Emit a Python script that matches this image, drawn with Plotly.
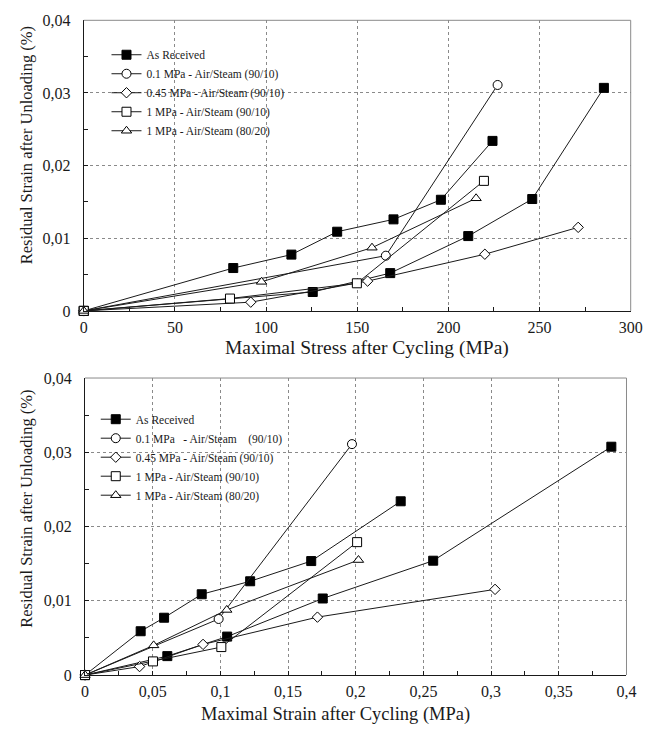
import plotly.graph_objects as go

# ---- Top panel: residual strain vs maximal stress after cycling ----
stress_as_received_a = [0, 82.0, 113.9, 139.0, 169.9, 195.9, 224.2]
strain_as_received_a = [0, 0.0059, 0.00775, 0.0109, 0.0126, 0.0153, 0.0234]
stress_as_received_b = [0, 125.6, 168.1, 210.9, 246.0, 285.3]
strain_as_received_b = [0, 0.0026, 0.0052, 0.0103, 0.0154, 0.0307]
stress_01_9010 = [0, 165.7, 227.0]
strain_01_9010 = [0, 0.0076, 0.0311]
stress_045_9010 = [0, 91.6, 155.7, 220.0, 271.2]
strain_045_9010 = [0, 0.0012, 0.0041, 0.0078, 0.0115]
stress_1_9010 = [0, 80.2, 149.8, 219.5]
strain_1_9010 = [0, 0.0017, 0.0038, 0.0179]
stress_1_8020 = [0, 97.5, 158.1, 215.2]
strain_1_8020 = [0, 0.0040, 0.0087, 0.0155]

# ---- Bottom panel: residual strain vs maximal strain after cycling ----
maxstrain_as_received_a = [0, 0.0411, 0.0584, 0.0862, 0.1220, 0.1671, 0.2332]
resid_as_received_a = [0, 0.0059, 0.00772, 0.01088, 0.01263, 0.01535, 0.0234]
maxstrain_as_received_b = [0, 0.0608, 0.1050, 0.1756, 0.2572, 0.3888]
resid_as_received_b = [0, 0.00255, 0.00518, 0.01031, 0.0154, 0.03075]
maxstrain_01_9010 = [0, 0.0987, 0.1972]
resid_01_9010 = [0, 0.00755, 0.0311]
maxstrain_045_9010 = [0, 0.0403, 0.0872, 0.1717, 0.3029]
resid_045_9010 = [0, 0.00114, 0.00413, 0.0078, 0.01154]
maxstrain_1_9010 = [0, 0.0502, 0.1007, 0.2010]
resid_1_9010 = [0, 0.00184, 0.00377, 0.0179]
maxstrain_1_8020 = [0, 0.0507, 0.1047, 0.2020]
resid_1_8020 = [0, 0.0040, 0.00877, 0.01549]

# ---- Tick labels ----
y_tickvals = [0, 0.01, 0.02, 0.03, 0.04]
y_ticktext = ["0", "0,01", "0,02", "0,03", "0,04"]
stress_tickvals = [0, 50, 100, 150, 200, 250, 300]
stress_ticktext = ["0", "50", "100", "150", "200", "250", "300"]
strain_tickvals = [0, 0.05, 0.1, 0.15, 0.2, 0.25, 0.3, 0.35, 0.4]
strain_ticktext = ["0", "0,05", "0,1", "0,15", "0,2", "0,25", "0,3", "0,35", "0,4"]

labels_top = ["As Received", "0.1 MPa - Air/Steam (90/10)", "0.45 MPa - Air/Steam (90/10)",
              "1 MPa - Air/Steam (90/10)", "1 MPa - Air/Steam (80/20)"]
labels_bottom = ["As Received", "0.1 MPa\u00a0\u00a0 - Air/Steam\u00a0\u00a0\u00a0 (90/10)",
                 "0.45 MPa - Air/Steam (90/10)", "1 MPa - Air/Steam (90/10)",
                 "1 MPa - Air/Steam (80/20)"]

FONT = "Liberation Serif, Times New Roman, serif"
INK = "#1a1a1a"
LINE = dict(color=INK, width=1)

styles = [
    dict(symbol="square", size=9, color="black", line=dict(color="black", width=1)),
    dict(symbol="circle", size=9, color="white", line=dict(color="black", width=1)),
    dict(symbol="diamond", size=8, color="white", line=dict(color="black", width=1)),
    dict(symbol="square", size=9, color="white", line=dict(color="black", width=1)),
    dict(symbol="triangle-up", size=9, color="white", line=dict(color="black", width=1)),
]

fig = go.Figure()


def add_panel(xaxis, yaxis, legend, labels, series):
    for xs, ys, style_idx, show in series:
        fig.add_trace(go.Scatter(
            x=xs, y=ys, mode="lines+markers",
            line=LINE, marker=styles[style_idx],
            name=labels[style_idx], showlegend=show,
            legend=legend, xaxis=xaxis, yaxis=yaxis, cliponaxis=False,
        ))


add_panel("x", "y", "legend", labels_top, [
    (stress_as_received_a, strain_as_received_a, 0, True),
    (stress_as_received_b, strain_as_received_b, 0, False),
    (stress_01_9010, strain_01_9010, 1, True),
    (stress_045_9010, strain_045_9010, 2, True),
    (stress_1_9010, strain_1_9010, 3, True),
    (stress_1_8020, strain_1_8020, 4, True),
])
add_panel("x2", "y2", "legend2", labels_bottom, [
    (maxstrain_as_received_a, resid_as_received_a, 0, True),
    (maxstrain_as_received_b, resid_as_received_b, 0, False),
    (maxstrain_01_9010, resid_01_9010, 1, True),
    (maxstrain_045_9010, resid_045_9010, 2, True),
    (maxstrain_1_9010, resid_1_9010, 3, True),
    (maxstrain_1_8020, resid_1_8020, 4, True),
])

W, H = 671, 742


def px_x(p):
    return p / W


def px_y(p):
    return 1 - p / H


axis_style = dict(showgrid=True, gridcolor="#8a8a8a", griddash="dot", gridwidth=1,
                  zeroline=False, showline=True, linecolor=INK, linewidth=1,
                  ticks="inside", ticklen=4, tickcolor=INK,
                  tickfont=dict(family=FONT, size=16, color=INK))


def minor(step):
    return dict(dtick=step, ticks="inside", ticklen=4, tickcolor=INK, showgrid=False)


fig.update_layout(
    width=W, height=H,
    margin=dict(l=0, r=0, t=0, b=0),
    paper_bgcolor="white", plot_bgcolor="white",
    font=dict(family=FONT, color=INK),
    xaxis=dict(domain=[px_x(81.7), px_x(642)], range=[0, 300], anchor="y",
               tickvals=stress_tickvals, ticktext=stress_ticktext, minor=minor(25),
               ticklabelstandoff=2, **axis_style),
    yaxis=dict(domain=[px_y(310), px_y(12.6)], range=[0, 0.04], anchor="x",
               tickvals=y_tickvals, ticktext=y_ticktext, minor=minor(0.005),
               ticklabelstandoff=9, **axis_style),
    xaxis2=dict(domain=[px_x(83), px_x(637.7)], range=[0, 0.4], anchor="y2",
                tickvals=strain_tickvals, ticktext=strain_ticktext, minor=minor(0.025),
                ticklabelstandoff=2, **axis_style),
    yaxis2=dict(domain=[px_y(682.7), px_y(378.7)], range=[0, 0.04], anchor="x2",
                tickvals=y_tickvals, ticktext=y_ticktext, minor=minor(0.005),
                ticklabelstandoff=9, **axis_style),
    legend=dict(x=px_x(105), y=px_y(33), xanchor="left", yanchor="top",
                bgcolor="rgba(0,0,0,0)", itemwidth=30,
                font=dict(family=FONT, size=11.5, color=INK)),
    legend2=dict(x=px_x(94), y=px_y(406), xanchor="left", yanchor="top",
                 bgcolor="rgba(0,0,0,0)", itemwidth=30,
                 font=dict(family=FONT, size=11.5, color=INK)),
    showlegend=True,
)

# Light frame on the top and right sides of each panel
for xr, yr in (("x domain", "y domain"), ("x2 domain", "y2 domain")):
    fig.add_shape(type="line", xref=xr, yref=yr, x0=0, x1=1, y0=1, y1=1,
                  line=dict(color="#8a8a8a", width=1))
    fig.add_shape(type="line", xref=xr, yref=yr, x0=1, x1=1, y0=0, y1=1,
                  line=dict(color="#8a8a8a", width=1))

# Axis titles
titles = [
    ("Maximal Stress after Cycling (MPa)", px_x(372), px_y(348), 0, 19.5),
    ("Maximal Strain after Cycling (MPa)", px_x(340), px_y(723), 0, 18.5),
    ("Residual Strain after Unloading (%)", px_x(23), px_y(140), -90, 16.5),
    ("Residual Strain after Unloading (%)", px_x(23), px_y(512), -90, 16.5),
]
for text, x, y, angle, size in titles:
    fig.add_annotation(text=text, x=x, y=y, xref="paper", yref="paper",
                       xanchor="center", yanchor="middle", textangle=angle,
                       showarrow=False, font=dict(family=FONT, size=size, color=INK))

fig.write_html("out.html", config={"displayModeBar": False})
